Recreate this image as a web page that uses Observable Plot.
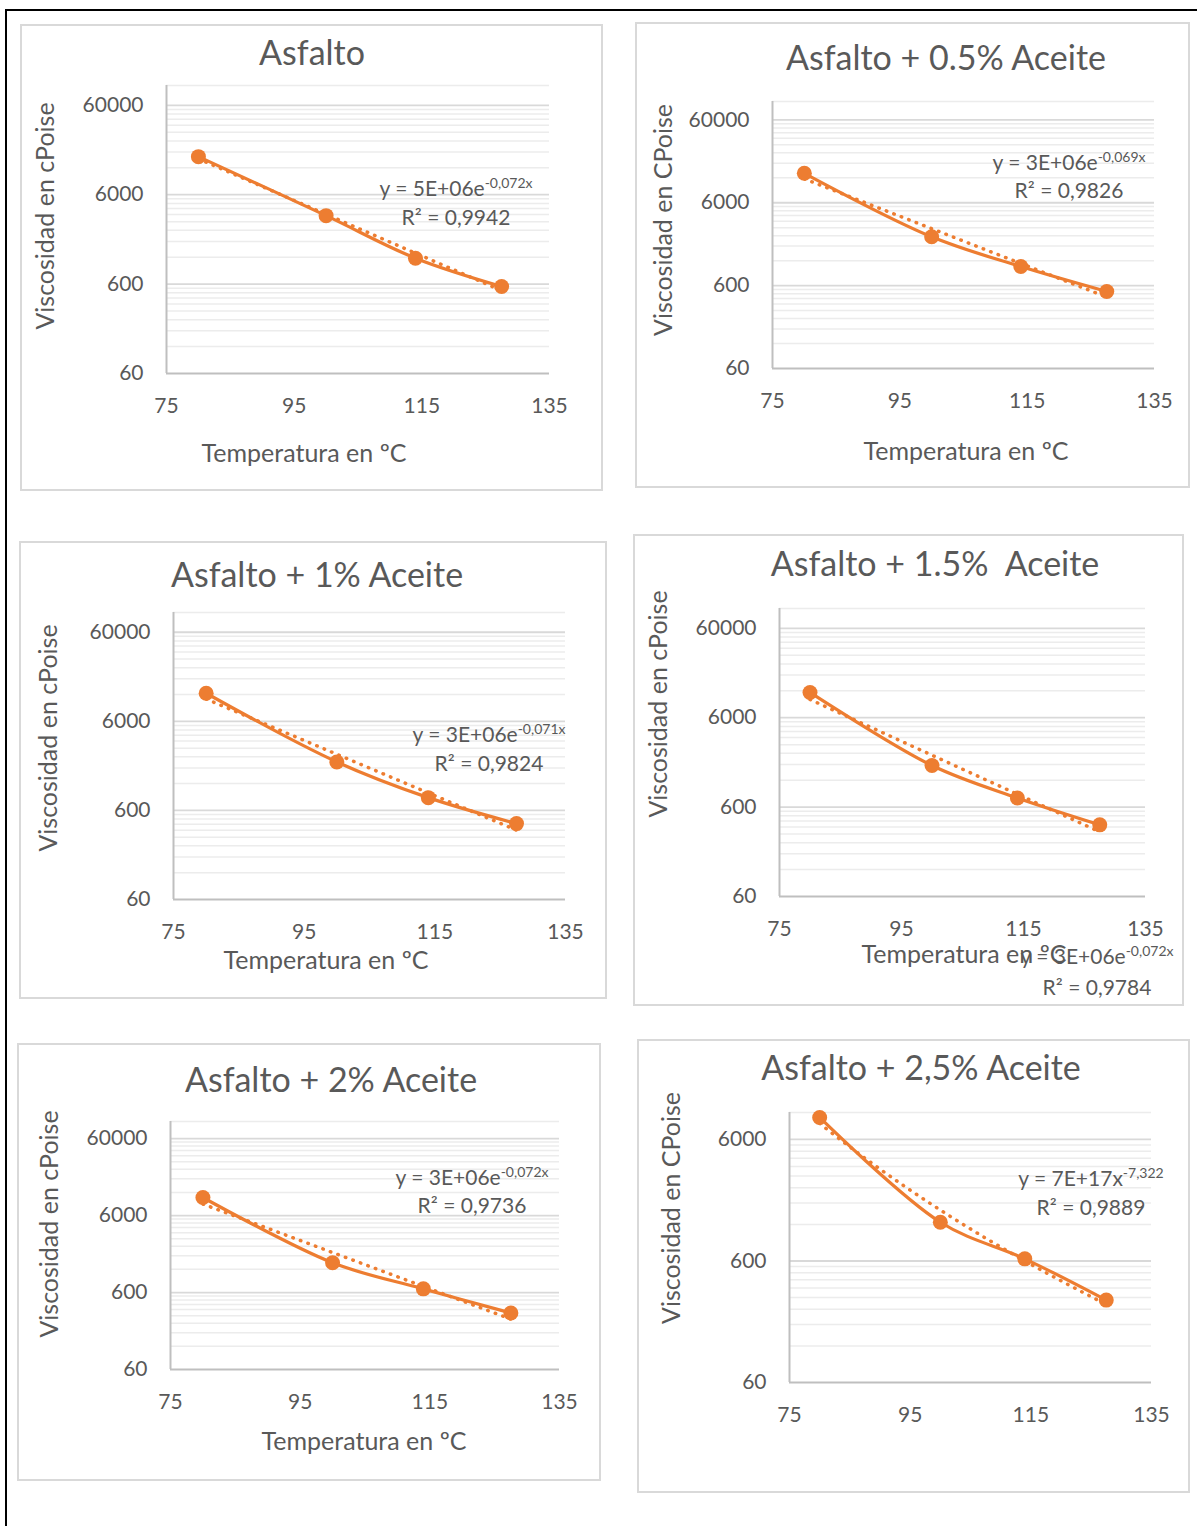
<!DOCTYPE html>
<html><head><meta charset="utf-8">
<script src="https://cdn.jsdelivr.net/npm/d3@7"></script>
<script src="https://cdn.jsdelivr.net/npm/@observablehq/plot@0.6"></script>
<style>
body{margin:0;background:#fff;font-family:Lato,"Open Sans",sans-serif;}
#page{position:relative;width:1197px;height:1526px;overflow:hidden;background:#fff;}
.frame{position:absolute;left:5px;top:9px;width:1400px;height:1700px;border-left:2px solid #000;border-top:2px solid #000;}
.panel{position:absolute;box-sizing:border-box;border:2px solid #d9d9d9;background:#fff;}
.plotwrap{position:absolute;}
.plotwrap svg{display:block;}
.t{position:absolute;transform:translate(-50%,-50%);white-space:nowrap;color:#595959;line-height:1;}
.title{font-size:34px;}
.atitle{font-size:25px;}
.ytitle{transform:translate(-50%,-50%) rotate(-90deg);}
.trend{font-size:21px;}
.trend sup{font-size:14px;vertical-align:0.55em;line-height:0;}
</style>
</head><body>
<div id="page"><div class="frame"></div></div>
<script>
// ---------------- data ----------------
const temperatures = [80, 100, 114, 127.5];
const viscAsfalto   = [16000, 3500, 1170, 565];
const viscAceite05  = [13600, 2330, 1020, 510];
const viscAceite1   = [12400, 2100, 835, 427];
const viscAceite15  = [11500, 1750, 760, 380];
const viscAceite2   = [10300, 1460, 670, 325];
const viscAceite25  = [9100, 1250, 625, 286];

const chartTitles = ["Asfalto", "Asfalto + 0.5% Aceite", "Asfalto + 1% Aceite", "Asfalto + 1.5%\u00a0 Aceite", "Asfalto + 2% Aceite", "Asfalto + 2,5% Aceite"];
const yAxisTitles = ["Viscosidad en cPoise", "Viscosidad en CPoise", "Viscosidad en cPoise", "Viscosidad en cPoise", "Viscosidad en cPoise", "Viscosidad en CPoise"];
const xAxisTitles = ["Temperatura en ºC", "Temperatura en ºC", "Temperatura en ºC", "Temperatura en ºC", "Temperatura en ºC", ""];
const trendTypes = ["exp", "exp", "exp", "exp", "exp", "power"];
const trendEqBase = ["y = 5E+06e", "y = 3E+06e", "y = 3E+06e", "y = 3E+06e", "y = 3E+06e", "y = 7E+17x"];
const trendEqExp  = ["-0,072x", "-0,069x", "-0,071x", "-0,072x", "-0,072x", "-7,322"];
const trendR2 = ["0,9942", "0,9826", "0,9824", "0,9784", "0,9736", "0,9889"];

const xTicks = [75, 95, 115, 135];
const yTicksFull = [60, 600, 6000, 60000];
const yTicksShort = [60, 600, 6000];
const yDomainMax = [100000, 100000, 100000, 100000, 100000, 10000];
const yDomainMin = 60;
const xDomain = [75, 135];

const seriesValues = [viscAsfalto, viscAceite05, viscAceite1, viscAceite15, viscAceite2, viscAceite25];
const seriesYTicks = [yTicksFull, yTicksFull, yTicksFull, yTicksFull, yTicksFull, yTicksShort];

// ---------------- layout (pixels) ----------------
const layout = [
  {box:[20,24,603,491],  plot:[166,85,549,373],   title:[312,52],  ytitle:[44,216],  xtitle:[304,452],  trend:[456,187,216]},
  {box:[635,22,1190,488],plot:[772,101,1154,368], title:[946,57],  ytitle:[662,220], xtitle:[966,450],  trend:[1069,161,189]},
  {box:[19,541,607,999], plot:[173,612,565,899],  title:[317,574], ytitle:[47,738],  xtitle:[326,959],  trend:[489,733,762]},
  {box:[633,534,1184,1006],plot:[779,608,1145,896],title:[935,563],ytitle:[657,704], xtitle:[964,953],  trend:[1097,955,986]},
  {box:[17,1043,601,1481],plot:[170,1121,559,1369],title:[331,1079],ytitle:[48,1224],xtitle:[364,1440], trend:[472,1176,1204]},
  {box:[637,1039,1190,1493],plot:[789,1112,1151,1382],title:[921,1067],ytitle:[670,1208],xtitle:null, trend:[1091,1177,1206]}
];

const ORANGE = "#ED7D31";
const page = document.getElementById("page");

function fitTrend(xs, ys, type) {
  const X = type === "power" ? xs.map(Math.log) : xs.slice();
  const Y = ys.map(Math.log);
  const n = X.length, mx = d3.mean(X), my = d3.mean(Y);
  let sxy = 0, sxx = 0;
  for (let i = 0; i < n; i++) { sxy += (X[i]-mx)*(Y[i]-my); sxx += (X[i]-mx)**2; }
  const b = sxy / sxx, a = my - b * mx;
  const x0 = d3.min(xs), x1 = d3.max(xs);
  return d3.range(0, 41).map(i => {
    const x = x0 + (x1 - x0) * i / 40;
    const y = type === "power" ? Math.exp(a + b * Math.log(x)) : Math.exp(a + b * x);
    return {x, y};
  });
}

function addText(cls, cx, cy, html) {
  const d = document.createElement("div");
  d.className = "t " + cls;
  d.style.left = cx + "px"; d.style.top = cy + "px";
  d.innerHTML = html;
  page.appendChild(d);
}

seriesValues.forEach((vals, i) => {
  const L = layout[i];
  const [bl, bt, br, bb] = L.box;
  const [pl, pt, pr, pb] = L.plot;
  const W = br - bl, H = bb - bt;

  const panel = document.createElement("div");
  panel.className = "panel";
  Object.assign(panel.style, {left: bl+"px", top: bt+"px", width: W+"px", height: H+"px"});
  page.appendChild(panel);

  const data = temperatures.map((t, k) => ({t, v: vals[k]}));
  const ymax = yDomainMax[i];
  const majors = seriesYTicks[i];
  const minors = [];
  majors.forEach(m => { for (let k = 2; k <= 9; k++) { const v = m * k; if (v < ymax) minors.push(v); } });
  minors.push(ymax);
  const trend = fitTrend(temperatures, vals, trendTypes[i]);

  const svg = Plot.plot({
    width: W, height: H,
    marginLeft: pl - bl, marginRight: br - pr, marginTop: pt - bt, marginBottom: bb - pb,
    style: {background: "transparent", fontFamily: "Lato, 'Open Sans', sans-serif", fontSize: "21px", color: "#595959", overflow: "visible"},
    x: {domain: xDomain},
    y: {type: "log", domain: [yDomainMin, ymax], axis: null},
    marks: [
      Plot.ruleY(minors, {stroke: "#ececec", strokeWidth: 1.5}),
      Plot.ruleY(majors.slice(1), {stroke: "#d9d9d9", strokeWidth: 1.8}),
      Plot.ruleX([xDomain[0]], {stroke: "#bfbfbf", strokeWidth: 2}),
      Plot.ruleY([yDomainMin], {stroke: "#bfbfbf", strokeWidth: 2}),
      Plot.axisX(xTicks, {tickSize: 0, tickPadding: 25, tickFormat: d => String(d), label: null, fill: "#595959"}),
      Plot.text(majors, {x: () => xDomain[0], y: d => d, text: d => String(d), textAnchor: "end", dx: -23, fill: "#595959", fontSize: 21}),
      Plot.line(trend, {x: "x", y: "y", stroke: ORANGE, strokeWidth: 3.5, strokeDasharray: "0.5 7.5", strokeLinecap: "round"}),
      Plot.line(data, {x: "t", y: "v", stroke: ORANGE, strokeWidth: 3.2, curve: "catmull-rom"}),
      Plot.dot(data, {x: "t", y: "v", r: 7.5, fill: ORANGE, stroke: "none"})
    ]
  });
  const wrap = document.createElement("div");
  wrap.className = "plotwrap";
  Object.assign(wrap.style, {left: bl+"px", top: bt+"px", width: W+"px", height: H+"px"});
  wrap.appendChild(svg);
  page.appendChild(wrap);

  addText("title", L.title[0], L.title[1], chartTitles[i]);
  addText("atitle ytitle", L.ytitle[0], L.ytitle[1], yAxisTitles[i]);
  if (L.xtitle) addText("atitle", L.xtitle[0], L.xtitle[1], xAxisTitles[i]);
  addText("trend", L.trend[0], L.trend[1], trendEqBase[i] + "<sup>" + trendEqExp[i] + "</sup>");
  addText("trend", L.trend[0], L.trend[2], "R² = " + trendR2[i]);
});
</script>
</body></html>
